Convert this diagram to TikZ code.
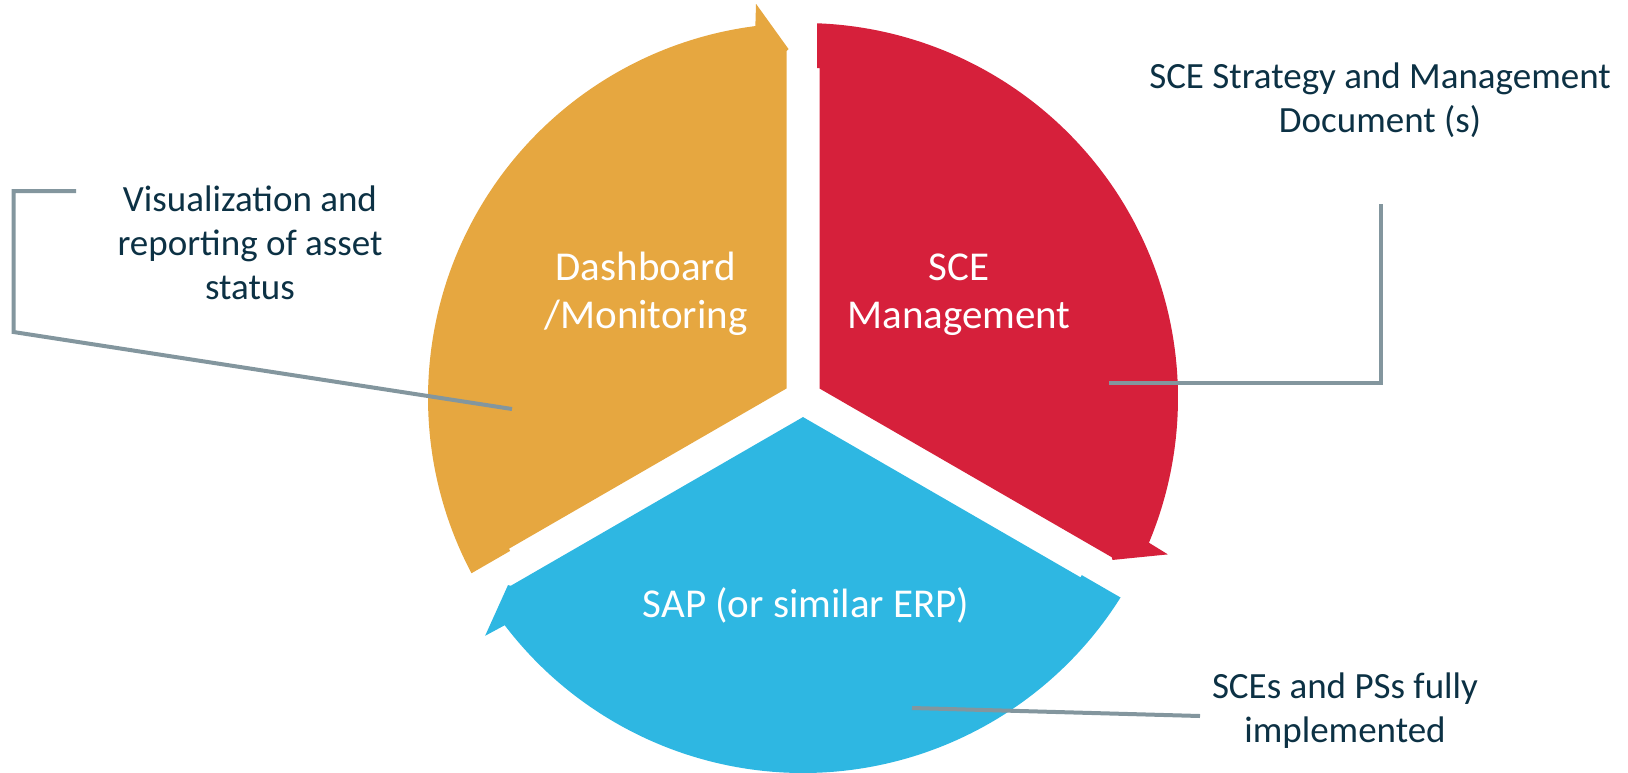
\documentclass[tikz,border=0pt]{standalone}
\usepackage{fontspec}
\setmainfont{Carlito}
\usetikzlibrary{calc}
\definecolor{segorange}{RGB}{230,167,64}
\definecolor{segred}{RGB}{214,32,59}
\definecolor{segblue}{RGB}{46,183,226}
\definecolor{labelnavy}{RGB}{12,49,68}
\definecolor{connector}{RGB}{131,150,158}
\begin{document}
\begin{tikzpicture}[x=1pt,y=1pt,
  conn/.style={draw=connector, line width=4pt},
  callout/.style={text=labelnavy, font=\fontsize{37}{44}\selectfont, align=center, inner sep=0pt},
  segtext/.style={text=white, font=\fontsize{41}{48}\selectfont, align=center, inner sep=0pt}]
\useasboundingbox (0,0) rectangle (1628,-772);
\coordinate (C) at (803,-398);
\def\R{375}
% three wedge-shaped arrows; each starts at ray \a (arrow end) and ends at ray \a+120 (tail)
\foreach \a/\col in {90/segorange,-30/segred,210/segblue} {
  \fill[\col]
    ($(C)+(\a+60:19.05)$)
    -- ($(C)+(\a+120:330)+(\a+30:16.5)$)
    -- ($(C)+(\a+120:330)+(\a+30:14)$)
    -- ($(C)+(\a+117.86:\R)$)
    arc[start angle=\a+117.86, end angle=\a+7.3, radius=\R]
    -- ($(C)+(\a+6.8:397)$)
    -- ($(C)+(\a:349)+(\a+90:14.5)$)
    -- ($(C)+(\a:347)+(\a+90:16.5)$)
    -- cycle;
}
% text inside the wedges
\node[segtext] (dash) at (646,-293.5) {Dashboard\\/Monitoring};
\node[segtext] (sce) at (959,-295) {SCE\\Management};
\node[segtext] (sap) at (806,-605.5) {SAP (or similar ERP)};
% callout labels
\node[callout] (vis) at (250,-243) {Visualization and\\reporting of asset\\status};
\node[callout] (doc) at (1380,-100.5) {SCE Strategy and Management\\Document (s)};
\node[callout] (impl) at (1345,-710.5) {SCEs and PSs fully\\implemented};
% connector end points
\coordinate (visA) at (76,-191);
\coordinate (visB) at (13.5,-191);
\coordinate (visC) at (13.5,-332);
\coordinate (visD) at (512,-409);
\coordinate (docA) at (1381,-204);
\coordinate (docB) at (1381,-383);
\coordinate (docC) at (1109,-383);
\coordinate (implA) at (1200,-716);
\coordinate (implB) at (912,-708);
\draw[conn] (visA) -- (visB) -- (visC) -- (visD);
\draw[conn] (docA) -- (docB) -- (docC);
\draw[conn] (implA) -- (implB);
\end{tikzpicture}
\end{document}
